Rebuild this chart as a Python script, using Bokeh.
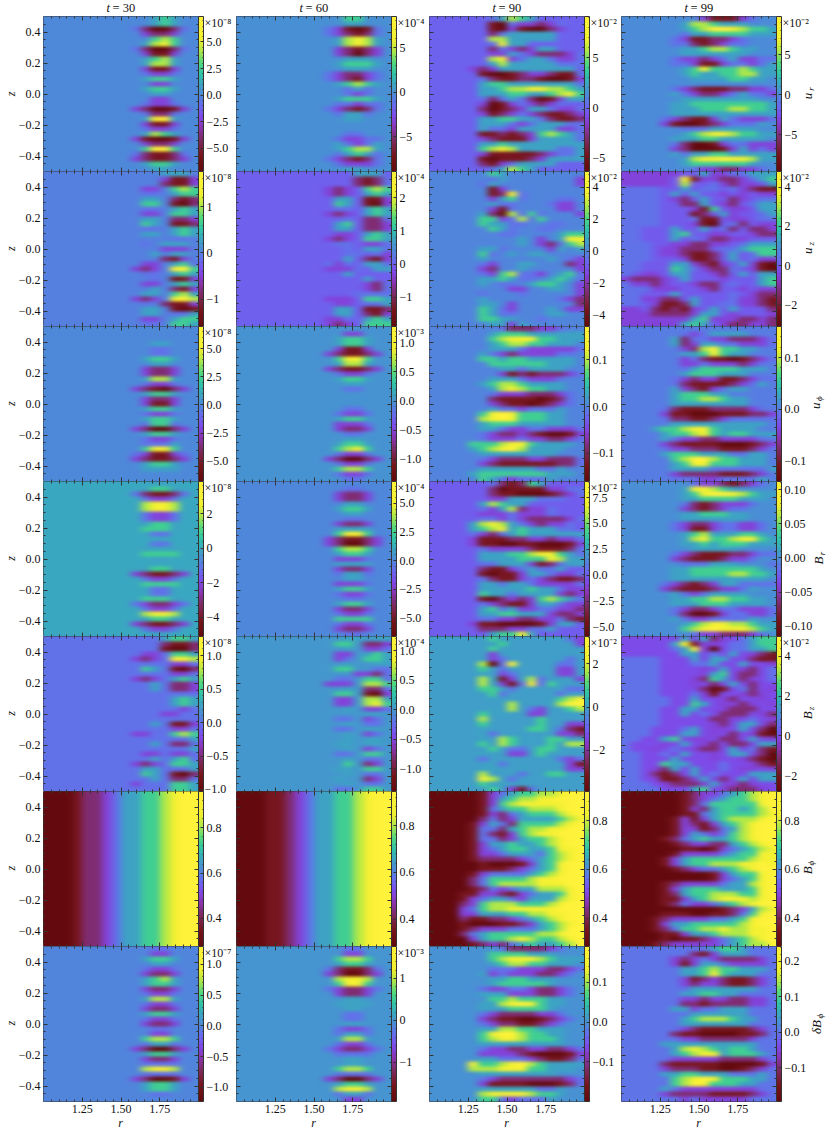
import numpy as np
from bokeh.core.properties import value
from bokeh.embed import file_html
from bokeh.layouts import column, row
from bokeh.models import (AllLabels, ColorBar, CustomJS, CustomJSTickFormatter, FixedTicker,
                          LinearAxis, LinearColorMapper, Range1d)
from bokeh.plotting import figure
from bokeh.resources import INLINE

# values, one string per z row (top first), left edge r=1 to right edge r=2
# digit d = d/9 of the panel's colour range, "." = field value 0, short rows start further right
UR_30 = ["...565..","...565..",".420024.","..3223..","...676..","..5786..",".420024.","..3113..","..5675..","..5775..","..3113..","..4334..","..5665..","...33...","..5665..","...55...","...33...","..4334..",".320013.","..4224..","..5895..","..3113..","..4334..","..5765..",".310013.","..3223..","..6996..",".421124.",".321123.","..5665..","...55..."]
UR_60 = ["...66...","...55...",".431014.",".432124.","..57875.","..57875.","..32123.","..32023.","...555..","..56665.","...555..",".432234.",".432134.","..56765.","...454..","...434..","..56665.","..44344.",".432124.","..4554..","...55...","........","........","...44...","..43344.","..54345.","..56775.","..45654.",".432124.","..43334.","...55..."]
UR_90 = ["......45765.....","......10433234..","......10310023..","......2455555...","......7755555...","......4855......","......2432355...","......3354322234","......7834554334","......5755555444",".....32355555555.",".....10012332114",".....42112210013",".....56655555554",".....55677887765",".....55566556786",".....42454201355",".....301343234..",".....20123554334",".....31234321123",".....55665542112",".....55543455544",".....54435555334",".....11212367654",".....32111355554",".....55655555555",".....67875555445",".....31111123445",".....10111235555",".....21345555...","......45765....."]
UR_99 = ["........311134..","......5776555...","......5679987665","......4556666555",".....43112234...",".....44212344...","......55677655..","......5555555...",".....43323453344",".....44311344345","......5686667655","......5655667755",".......55556655.","................",".....43211122334",".....54322345443","......55555555..",".....55666666665",".....55566677665",".....55555555555","....432113543334","....31001234445.","......44455555..","......5678876655",".....5556655555.",".....42001344333",".....32000135343",".....54556655555","......5788988755","......56666665..",".......43322334."]
UZ_30 = ["....555.","....3113","....2113","..33.676","..44.566","..55.212","..66.102","..44.565","..33.665","..55.223","..65.112","..44.565","..55.565",".....44.","..4.555.","....333.","...5.55.","....213.","..33.564",".323.896","..44.565","...4.113","..33.565","...5.213","..55.675",".323.897","..4.2113","..55.101","..55.445","..33.566","..44.665"]
UZ_60 = ["....555.","....2124","....2124",".323.676",".323.565","..55.113","..65.103","..44.565",".323.565","...4.224","..56.223","..55.223","..33.565",".323.665","..44.334","...4.554","...44.43","...5.213",".434.554",".3334.55","...5....",".....5..",".....324",".....324","....4444",".333.665","..33.445","..55.112","..55.213",".334.565",".323.666"]
UZ_90 = ["......65........","......45.......3",".....45........3","......13........","......1284......","......3564...44.","......544...433.","......314....33.",".....5207464...3",".....6634746....",".....65544..44..","......654..44...",".......44....566",".........5.3.588",".........5.32467",".....554....35.5",".....64.5.55....",".....5......5.43",".....43..55...23",".....32..5.....3",".....4367443.564",".....556544.5654",".....5.44.5665.3","........33..55.3",".....4...4.....3",".....5.......432",".....55.3......2",".....6543...5.33",".....6544...55..",".....6655..4....","......5535......"]
UZ_99 = ["333333..53344555","33333.8133223456","33333.7..43233.5","4444..5.44.43211","4444.5.5..3.3.33","4444.32.5..23.44","4444..225.32.455","4444...316.33.55","4444...12.53..45","4444...411.33.44","4444...310.42.33","44...5..5.42.223","44...56..33..322","44...5.4.2233...","444..332233.4555","444.33222.445666","444.332112.5.466","444...3112.5.433","44...553213.5310","44...6543224.310","4.33.55..32.5.55","32223.5...3...56","43323..322.4..56","444333..32..3.33","44...5.....4.322","443322.5...43321","44.31125..443321","33.21213.5.5...2","3332222355.3...3","3333333563332232","333333565.322332"]
UP_30 = ["........","........","........","...55...","...44...","...44...","..5665..","...55...","..3223..","..3223..","..5775..","..4334..",".321023.","..5665..","..3223..","..3113..","..5665..","..4334..","..5665..","..4664..",".320023.","..5665..","..4334..","..4445..","..6886..",".431134.",".321123.","..5665..","..5555..","........","........"]
UP_60 = ["........","...33...","..5665..","..5665..","..3113..",".321123.","..6886..","..5775..",".321123.","..4334..","..5665..","...55...","...44...","........","........","........","...44...","..4334..","..5665..","..3334..","..3223..","...44...","...55...","..5665..","..6786..","..4334..",".320023.","..4334..","..6776..","..4334..","...44..."]
UP_90 = [".......4222334..","......5666555555","......6788866555","......567766555.","......5554333334",".....5432333344.",".....6656655555.","......666666555.",".......5545555..",".......312122234","......55543334..",".....567765555..","......57876655..","......433322234.","......211110124.","......321101234.","......54434445..",".....689866655..",".....789866655..",".....566655555..",".....55433443334",".....43223210013",".....43334332234","....66678865555.","....5678975555..",".....55555555...",".....43222332224",".....32111111224",".....555555445..","....56666666555.",".....65434445..."]
UP_99 = ["................","......4345555...",".....52443322234",".....52355443334","......32796655..","......5568655...","......3421101234","......334333234.","......456666555.","......5666555...",".....43233112344",".....4211112345.",".....53213455...",".....566655.....",".....56677655...",".....55555555...","....42111222234.","....311000111223","....422112344444",".....5555555555.","...56678865555..","....566786566555","....54332233334.","....321111000123","....433222111234","....56665554455.",".....6799766555.",".....5688666555.",".....55554444445",".....3222211123.",".....4443344445."]
BR_30 = ["...55...","..5665..",".421124.","..4334..","..7887..","..7887..","..4334..","..4334..","..5665..","..6665..","...44...","........","...44...","..5..5..","..6666..","...55...","........","..5665..",".321123.","..4334..","..6666..","...44...","...44...","..6665..",".432234.","..4334..","..7887..","..5665..",".321123.","..4334..","...55..."]
BR_60 = ["........","...44...","..3223..","..3223..","...55...","..5665..","...55...","...44...","..3223..","..5555..","..6886..",".321123.",".320023.","..6776..","..5665..","..3334..","..5555..","..3223..","..4554..","...55...","..3334..","..5665..","..4334..","...44...","..5665..","..3223..","..4334..","..6666..","..4334..","..3223..","...44..."]
BR_90 = ["......421265....","......2011113344","......2110001234","......33555444..",".....57655......",".....43572334...",".....33343334...",".....44343222234","....57875432334.","....56785655544.","....432456555555","....311122332334","....311001100013",".....43333211124",".....55566788654",".....55556668755",".....44555312455",".....211345445..",".....10113554334",".....42113432112",".....55455433334",".....55555655433",".....65545555323",".....10232367654",".....43211355433",".....56453344332",".....55665553223",".....44332233421","....31100001355.",".....22233445...","......56685....."]
BR_99 = [".......43321234.","......588765....","......5689987655","......556666555.","......42123334..","......3212344...","......5566655...","......5555555...",".....4322344334.",".....4311344334.","......567555665.","......5786678865","......5565666555",".......55555....",".....43211122344",".....321112334..","......444555...4",".....5566666665.",".....55666677665",".....5555555555.","....432123554444","....3211123345..",".....54345555...",".....5566776655.",".....5556665555.",".....43223443334",".....42001344334",".....543344445..","......5678877655","......6789888765",".......43322234."]
BZ_30 = ["....5665","....2112","....1002","..33.665",".323.887","..44.334","..65.102","..44.334",".323.565","...5.223","...5.223","....444.","..44.565",".444.565","..44.434","....3344","...44.44","...5.113","..44.334",".334.676","...4.445","...5.224","..44.445","..33.334","...5.564",".323.665","..55.445","..65.102","...5.224",".344.665","..4..665"]
BZ_60 = ["...55.55","..66.223","...5.334","..33.565","..34.665","...5..55","..66..44","....3324","..44.664",".333.776","...5.224","..66.103","..33.775","..33.786","...5.334",".....55.","..44.34.","...5.44.","..44.55.","...5.34.","...5.55.","..55.55.","...5.34.","..44.66.","...5.44.","...6.23.","..55.66.","...5.44.","..5..23.","...5.44.","..44.66."]
BZ_90 = ["......65......43","......56.......3","......6.........","......3.5.......","......34......4.",".....7048....44.",".....6.4.....33.",".....5.34....33.",".....7513574...3",".....75314846...",".....6654.....44","......64.....4..","......5......678","........7...5799","......5.7.43..67",".....6.5..33....",".....7.....6....",".....6.....6..33",".....5....66.421",".....54......332",".....5.76.5.66..",".....6.76...6.77","......6.44.66...",".....5..33.6....",".....4.......434","......54......31",".....55..5....33",".....7...4..66..",".....87.4.......",".....6.5........","......6.314....."]
BZ_99 = ["......5.523.4566",".....58133.44566",".....45830.44556","......55.4.5.321","4444...5.55..211","4444...445..5..3","4444....3.5.32.4","4444....356.22.4","4444...3265.23.4","4444...3.2.5.2..","4444....201.42.3","4444...431..323.","44444..5..32..3.","44444..65.3323.3","4444..55..3222..","4444..5.4.222.32","4444.....223.4.3","4444.....32.55.2","444...45.33.5.20","444...55.3.2.310","44..56.33.22.5.3","4...3.5.32.22.55","4..3.4.322.5.421","44..4.5..3.55.20","44...5...3..3210","44..655...4..321","44.325.5..4.33.3","44.212.5.4...555","44.311235.2.5.55","444.3222353323..","4444...56.32223."]
BP_30 = ["0001223455667899"]
BP_60 = ["0001123455667899"]
BP_90 = ["0000013456677899","0000013567788999","0000013678888899","0000014566777899","0000013245666789","0000024235555678","0000135426666789","0000144256778899","0000142136788999","0000144235667899","0000135565567899","0000134566556889","0000133455546789","0000122223456789","0000010001356899","0000011123456899","0000134444567899","0000246666788999","0000246777788899","0000124345577789","0001133213455689","0001345543555789","0002367776667899","0003467788888999","0003355566778899","0002112234567899","0001000112356789","0001233344456799","0002456666677899","0000356678766789","0000123245655679"]
BP_99 = ["0000001233456789","0000001234566789","0000001246666689","0000001325665679","0000001145666678","0000013135677789","0000013213567899","0000013312457899","0000013543467899","0000124565567899","0000012332256789","0000001101345678","0000013333456688","0000135666666788","0000135667778898","0000012344567899","0000000001356689","0000000001345689","0000123333455789","0000135666555689","0000125667776689","0000113567888789","0000124334567899","0000000000123578","0000111001124689","0001233334456899","0001355666667899","0001246677877889","0000113556777889","0000101123456789","0001233333456779"]
DB_30 = ["...44...","...33...","..5665..","...55...","..4334..","..3223..","..5675..","..5665..","..3223..","..4334..","..5775..","..4334..","..3223..","..5665..","..4334..","..3223..","...44...","...33...","..6776..","..4554..",".320023.","..5665..","..3223..","..4444..","..7887..","..4444..",".320013.","..5665..","..5665..","...44...","........"]
DB_60 = ["...44...","...33...","..6776..","..5665..",".421124.",".320023.","..7887..","..6886..",".432234.","..3223..","...55...","..5555..","...55...","...44...","...44...","...55...","..4334..","..4554..","..5775..","..4334..",".432234.","..4444..","...55...","...55...","..6776..","..4444..",".320023.","..5665..","..7887..","..4554..","...33..."]
DB_90 = [".......4222234..","......6666555...","......6788876555","......567766555.","......4443332234",".....5343332234.","......5566555...","......5666665...",".....4334432234.",".....5553332234.","......66766655..",".....557898655..",".....55566665...",".....432222334..",".....3211001234.",".....432211234..",".....557766555..",".....689976655..",".....678876665..",".....555555555..",".....43322332234",".....33332100013",".....55444321124","....866789765555","....77788866555.",".....55555555...",".....43222222234",".....31111000124",".....555555445..",".....788887665..",".....66434445..."]
DB_99 = [".......445665...","......4213555...",".....32343222234",".....31355433334","......556766555.","......55686555..","......3123211234","......3233211234","......45555555..","......556655....",".....43323322334",".....42212222334",".....55344555...",".......555555...","......56777655..","......5555555...",".....43211111234","....421100001124","....44332222234.","....5555555555..",".....578765665..",".....5678856665.","....433333222234","...4211111000013","...4322211001234","....55665554445.",".....6789866655.",".....679866655..","....54333333334.","....322221111234",".....434333334.."]

PANELS = [[UR_30, UR_60, UR_90, UR_99], [UZ_30, UZ_60, UZ_90, UZ_99], [UP_30, UP_60, UP_90, UP_99],
          [BR_30, BR_60, BR_90, BR_99], [BZ_30, BZ_60, BZ_90, BZ_99], [BP_30, BP_60, BP_90, BP_99],
          [DB_30, DB_60, DB_90, DB_99]]

TIMES = [30, 60, 90, 99]
# colour limits of each panel (in units of the panel's offset)
LOW = [[-7.2, -8.9, -6.3, -9.6], [-1.59, -1.88, -4.7, -3.1], [-6.8, -1.38, -0.16, -0.139], [-5.1, -6.6, -5.9, -0.115],
       [-1.03, -1.39, -3.9, -2.8], [0.276, 0.283, 0.284, 0.284], [-1.23, -1.93, -0.2, -0.196]]
HIGH = [[7.4, 8.5, 9.1, 9.75], [1.76, 2.79, 5.0, 4.8], [6.96, 1.28, 0.171, 0.16], [3.86, 6.9, 9.05, 0.112],
        [1.285, 1.24, 3.26, 5.0], [0.96, 0.946, 0.92, 0.92], [1.29, 1.76, 0.19, 0.242]]
OFFSET = [["×10⁻⁸", "×10⁻⁴", "×10⁻²", "×10⁻²"], ["×10⁻⁸", "×10⁻⁴", "×10⁻²", "×10⁻²"], ["×10⁻⁸", "×10⁻³", "", ""],
          ["×10⁻⁸", "×10⁻⁴", "×10⁻²", ""], ["×10⁻⁸", "×10⁻⁴", "×10⁻²", "×10⁻²"], ["", "", "", ""],
          ["×10⁻⁷", "×10⁻³", "", ""]]
T5 = [-5, -2.5, 0, 2.5, 5]
T3 = [-5, 0, 5]
T1 = [-1, 0, 1]
TH = [-1, -0.5, 0, 0.5, 1]
TP = [-0.1, 0, 0.1]
CB_TICKS = [[T5, T3, T3, T3], [T1, [-1, 0, 1, 2], [-4, -2, 0, 2, 4], [-2, 0, 2, 4]], [T5, TH, TP, TP],
            [[-4, -2, 0, 2], T5, [-5, -2.5, 0, 2.5, 5, 7.5], [-0.1, -0.05, 0, 0.05, 0.1]],
            [TH, TH, [-2, 0, 2], [-2, 0, 2, 4]], [[0.4, 0.6, 0.8]] * 4, [TH, T1, TP, [-0.1, 0, 0.1, 0.2]]]
CB_DEC = [[1, 0, 0, 0], [0, 0, 0, 0], [1, 1, 1, 1], [0, 1, 1, 2], [1, 1, 0, 0], [1, 1, 1, 1], [1, 0, 1, 1]]
ROW_SYM = ["u", "u", "u", "B", "B", "B", "δB"]
ROW_SUB = ["r", "z", "ϕ", "r", "z", "ϕ", "ϕ"]
ROW_X = [807, 807, 815, 818, 807, 807, 816]
R_TICKS = [1.25, 1.5, 1.75]
R_MINOR = [1.05, 1.1, 1.15, 1.2, 1.3, 1.35, 1.4, 1.45, 1.55, 1.6, 1.65, 1.7, 1.8, 1.85, 1.9, 1.95]
Z_TICKS = [-0.4, -0.2, 0, 0.2, 0.4]
Z_MINOR = [-0.45, -0.35, -0.3, -0.25, -0.15, -0.1, -0.05, 0.05, 0.1, 0.15, 0.25, 0.3, 0.35, 0.45]

STOPS = [0, .1, .2, .28, .35, .42, .5, .57, .63, .7, .78, .85, 1]
COLS = [(100, 10, 14), (120, 20, 26), (125, 42, 96), (138, 53, 176), (128, 72, 232), (106, 104, 240), (76, 140, 216),
        (58, 168, 192), (48, 196, 168), (80, 216, 128), (176, 232, 72), (240, 240, 48), (255, 242, 58)]
PAL = ["#%02x%02x%02x" % tuple(int(np.interp(i / 255, STOPS, [c[k] for c in COLS])) for k in range(3)) for i in range(256)]

FONT = "Liberation Serif"
INK = "#111111"
WIDTHS = [236, 193, 192, 210]
LEFTS = [43, 0, 0, 0]
FRAME = 155
TOP = 16
PAGE_W, PAGE_H = 831, 1133
COL_X = [43, 236, 429, 621]


def to_grid(rows, low, high):
    grid = []
    for r in rows:
        r = r.rjust(16, ".")[-16:]
        grid.append([0.0 if c == "." else low + int(c) / 9 * (high - low) for c in r])
    # one repeated cell round the edge, outside the ranges, so the soft display filter has no fade at the frame
    return np.pad(np.array(grid[::-1]), 1, mode="edge")


def add_axis(p, side, ticks, minor, dec=None):
    ax = LinearAxis(ticker=FixedTicker(ticks=ticks, minor_ticks=minor), axis_line_color=None,
                    major_tick_in=4, major_tick_out=0, minor_tick_in=2, minor_tick_out=0,
                    major_tick_line_color="#333333", minor_tick_line_color="#333333")
    if dec is not None:
        ax.formatter = CustomJSTickFormatter(args=dict(dec=dec), code="return tick.toFixed(dec).replace('-', '−')")
        ax.major_label_text_font = FONT
        ax.major_label_text_font_size = "12px"
        ax.major_label_text_color = INK
        ax.major_label_standoff = 3
    else:
        ax.formatter = CustomJSTickFormatter(code="return ''")
        ax.major_label_text_font_size = "0px"
        ax.major_label_standoff = 0
    p.add_layout(ax, side)


# the image glyph is rasterised to blocks; soften it on the page, colour bars (narrow images) stay sharp
SOFTEN = """
let n = 0
const apply = (root) => root.querySelectorAll('*').forEach((el) => {
  if (el.shadowRoot) apply(el.shadowRoot)
  if (el.tagName == 'image' && !el.getAttribute('filter') && Number(el.getAttribute('width')) > 50) {
    const svg = el.ownerSVGElement, ns = 'http://www.w3.org/2000/svg'
    const f = document.createElementNS(ns, 'filter'), b = document.createElementNS(ns, 'feGaussianBlur')
    f.setAttribute('id', 'soft')
    f.setAttribute('color-interpolation-filters', 'sRGB')
    b.setAttribute('stdDeviation', '3.5 1.8')
    f.appendChild(b)
    svg.appendChild(f)
    el.setAttribute('filter', 'url(#soft)')
  }
})
const timer = setInterval(() => { apply(document); if (++n > 40) clearInterval(timer) }, 100)
"""

plain_x, plain_y, plain_t = [], [], []
rows = []
for i in range(7):
    figs = []
    top = TOP if i == 0 else 0
    bottom = 31 if i == 6 else 0
    for j in range(4):
        low, high = LOW[i][j], HIGH[i][j]
        p = figure(width=WIDTHS[j], height=FRAME + top + bottom, output_backend="svg", toolbar_location=None,
                   x_range=Range1d(1, 2), y_range=Range1d(-0.5, 0.5), x_axis_location=None, y_axis_location=None,
                   min_border_left=LEFTS[j], min_border_right=WIDTHS[j] - LEFTS[j] - FRAME,
                   min_border_top=top, min_border_bottom=bottom)
        p.grid.visible = False
        p.outline_line_color = "#333333"
        mapper = LinearColorMapper(palette=PAL, low=low, high=high)
        grid = to_grid(PANELS[i][j], low, high)
        dz, dr = 1 / (grid.shape[0] - 2), 1 / (grid.shape[1] - 2)
        p.image(image=[grid], x=1 - dr, y=-0.5 - dz, dw=1 + 2 * dr, dh=1 + 2 * dz, color_mapper=mapper)

        add_axis(p, "left", Z_TICKS, Z_MINOR, dec=1 if j == 0 else None)
        add_axis(p, "below", R_TICKS, R_MINOR, dec=2 if i == 6 else None)
        add_axis(p, "above", R_TICKS, R_MINOR)
        add_axis(p, "right", Z_TICKS, Z_MINOR)

        ticks = CB_TICKS[i][j]
        step = (ticks[1] - ticks[0]) / 5
        minor = [m for m in np.arange(ticks[0] - 5 * step, high + step / 2, step) if low <= m <= high]
        # a tick label too near the bar's end would be cut by the figure edge: it goes on the overlay
        y0 = TOP + i * FRAME
        skip = None
        for t in ticks:
            sy = y0 + FRAME * (high - t) / (high - low)
            if y0 + FRAME - sy < 6:
                skip = t
                plain_x.append(COL_X[j] + 161)
                plain_y.append(sy)
                plain_t.append(f"{t:.{CB_DEC[i][j]}f}".replace("-", "−"))
        cb = ColorBar(color_mapper=mapper, ticker=FixedTicker(ticks=ticks, minor_ticks=minor), width=5,
                      location="top_left", margin=0, padding=0, label_standoff=3, major_label_policy=AllLabels(),
                      formatter=CustomJSTickFormatter(args=dict(dec=CB_DEC[i][j], skip=skip),
                                                      code="return tick === skip ? '' : tick.toFixed(dec).replace('-', '−')"),
                      major_label_text_font=FONT, major_label_text_font_size="12px", major_label_text_color=INK,
                      major_tick_in=3, major_tick_out=0, minor_tick_in=1, minor_tick_out=0,
                      major_tick_line_color="#333333", minor_tick_line_color="#333333", bar_line_color="#333333")
        p.add_layout(cb, "right")

        if OFFSET[i][j]:
            plain_x.append(COL_X[j] + 161)
            plain_y.append(y0 + 7)
            plain_t.append(OFFSET[i][j])
        figs.append(p)
    rows.append(row(*figs, spacing=0))

# every text outside the frames sits on one transparent figure the size of the page, in page pixels
over = figure(width=PAGE_W, height=PAGE_H, output_backend="svg", toolbar_location=None, x_range=Range1d(0, PAGE_W),
              y_range=Range1d(PAGE_H, 0), x_axis_location=None, y_axis_location=None, min_border=0,
              outline_line_color=None, background_fill_color=None, border_fill_color=None)
over.grid.visible = False
over.styles = {"position": "absolute", "left": "0px", "top": "0px", "pointer-events": "none"}


def words(xs, ys, texts, size, style="normal", angle=0.0, align="left"):
    over.text(xs, ys, text=texts, text_font=value(FONT), text_font_size=value(size), text_font_style=style, text_color=INK,
              text_baseline="middle", text_align=align, angle=angle)


words(plain_x, plain_y, plain_t, "12px")
words([x + 63 for x in COL_X], [8] * 4, ["t"] * 4, "12.5px", style="italic")
words([x + 69 for x in COL_X], [8] * 4, [f"= {t}" for t in TIMES], "12.5px")
words([x + 77 for x in COL_X], [1123] * 4, ["r"] * 4, "12px", style="italic", align="center")
mids = [TOP + (k + 0.5) * FRAME for k in range(7)]
words([10] * 7, mids, ["z"] * 7, "12px", style="italic", angle=np.pi / 2, align="center")
words(ROW_X, [m + (4 if len(s) > 1 else 2) for m, s in zip(mids, ROW_SYM)], ROW_SYM, "13px", style="italic", angle=np.pi / 2, align="center")
words([x + 3 for x in ROW_X], [m - (7 if len(s) > 1 else 5) for m, s in zip(mids, ROW_SYM)], ROW_SUB, "9px", style="italic", angle=np.pi / 2, align="center")

over.js_on_change("inner_width", CustomJS(code=SOFTEN))
page = column(*rows, over, spacing=0)
open("out.html", "w").write(file_html(page, INLINE))
